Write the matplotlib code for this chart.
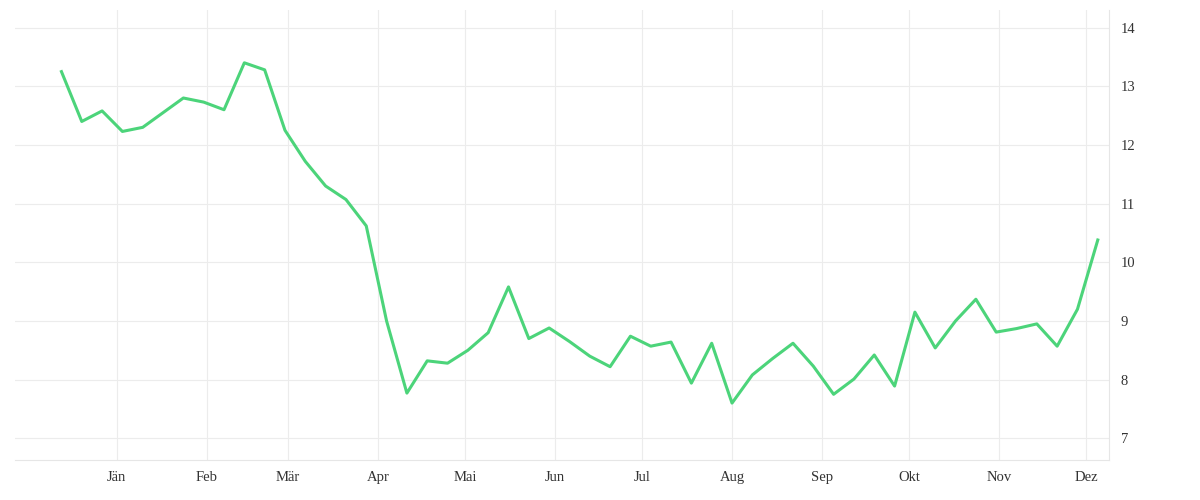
import matplotlib
matplotlib.use("Agg")
import matplotlib.pyplot as plt
import matplotlib.dates as mdates
import pandas as pd

dates = pd.date_range("2021-12-13", periods=52, freq="7D")
values = [13.25, 12.4, 12.58, 12.23, 12.3, 12.55, 12.8, 12.73, 12.6, 13.4, 13.28,
          12.25, 11.72, 11.3, 11.07, 10.62, 9.0, 7.77, 8.32, 8.28, 8.5, 8.8, 9.58,
          8.7, 8.88, 8.65, 8.4, 8.22, 8.74, 8.57, 8.64, 7.94, 8.62, 7.6, 8.08, 8.36,
          8.62, 8.23, 7.75, 8.01, 8.42, 7.89, 9.15, 8.54, 9.0, 9.37, 8.81, 8.87,
          8.95, 8.57, 9.2, 10.38]
month_labels = ["Jän", "Feb", "Mär", "Apr", "Mai", "Jun", "Jul", "Aug", "Sep", "Okt", "Nov", "Dez"]
month_ticks = pd.date_range("2022-01-01", periods=12, freq="MS")
yticks = [7, 8, 9, 10, 11, 12, 13, 14]

plt.rcParams["font.family"] = ["Liberation Serif", "DejaVu Serif"]
fig = plt.figure(figsize=(12, 5), dpi=100)
ax = fig.add_axes([0.0125, 0.08, 0.912, 0.9])
ax.plot(dates, values, color="#4cd47a", lw=2.2)
ax.set_xlim(pd.Timestamp("2021-11-27"), pd.Timestamp("2022-12-09"))
ax.set_ylim(6.63, 14.3)
ax.set_xticks(month_ticks)
ax.set_xticklabels(month_labels)
ax.set_yticks(yticks)
ax.yaxis.tick_right()
ax.grid(True, color="#ececec", lw=0.8)
for s in ["top", "left"]:
    ax.spines[s].set_visible(False)
for s in ["bottom", "right"]:
    ax.spines[s].set_color("#e6e6e6")
ax.tick_params(length=0, labelsize=10.5, colors="#333333", pad=8)
fig.savefig("out.png")
